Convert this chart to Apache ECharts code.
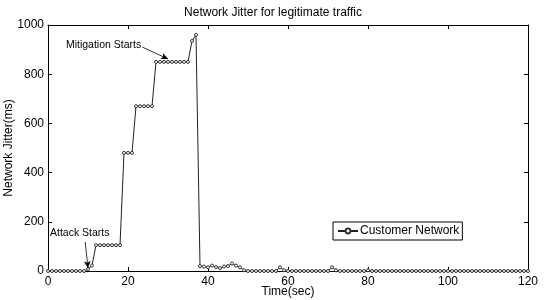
<!DOCTYPE html>
<html>
<head>
<meta charset="utf-8">
<script src="https://cdn.jsdelivr.net/npm/echarts@6/dist/echarts.min.js"></script>
<style>
  html, body { margin: 0; padding: 0; background: #fff; }
  #chart { width: 546px; height: 300px; }
</style>
</head>
<body>
<div id="chart"></div>
<script>
// time in seconds, one sample per second
const timeSec = [
  0, 1, 2, 3, 4, 5, 6, 7, 8, 9, 10, 11, 12, 13, 14, 15, 16, 17, 18, 19,
  20, 21, 22, 23, 24, 25, 26, 27, 28, 29, 30, 31, 32, 33, 34, 35, 36, 37, 38, 39,
  40, 41, 42, 43, 44, 45, 46, 47, 48, 49, 50, 51, 52, 53, 54, 55, 56, 57, 58, 59,
  60, 61, 62, 63, 64, 65, 66, 67, 68, 69, 70, 71, 72, 73, 74, 75, 76, 77, 78, 79,
  80, 81, 82, 83, 84, 85, 86, 87, 88, 89, 90, 91, 92, 93, 94, 95, 96, 97, 98, 99,
  100, 101, 102, 103, 104, 105, 106, 107, 108, 109, 110, 111, 112, 113, 114, 115, 116, 117, 118, 119,
  120
]
// jitter in ms
const jitterMs = [
  0, 0, 0, 0, 0, 0, 0, 0, 0, 0, 8, 22, 105, 105, 105, 105, 105, 105, 105, 480,
  480, 480, 670, 670, 670, 670, 670, 850, 850, 850, 850, 850, 850, 850, 850, 850, 935, 960, 20, 18,
  15, 22, 16, 12, 18, 20, 30, 22, 15, 3, 0, 0, 0, 0, 0, 0, 0, 0, 15, 3,
  0, 0, 0, 0, 0, 0, 0, 0, 0, 0, 0, 15, 3, 0, 0, 0, 0, 0, 0, 0,
  3, 0, 0, 0, 0, 0, 0, 0, 0, 0, 0, 0, 0, 0, 0, 0, 0, 0, 0, 0,
  0, 0, 0, 0, 0, 0, 0, 0, 0, 0, 0, 0, 0, 0, 0, 0, 0, 0, 0, 0,
  0
]

// annotations: text anchor and arrow [from, to] in data units
const attackLabel = { text: 'Attack Starts', at: [0.5, 155], from: [9.3, 118], to: [10, 12] }
const mitigationLabel = { text: 'Mitigation Starts', at: [23.3, 917], from: [23.6, 910], to: [30, 862] }

const seriesData = timeSec.map((t, i) => [t, jitterMs[i]])
const fontFamily = 'Liberation Sans, Arial, sans-serif'
const ink = '#000'

const chart = echarts.init(document.getElementById('chart'), null, { renderer: 'canvas' })

const axisCommon = {
  axisLine: { show: true, onZero: false, lineStyle: { color: ink, width: 1 } },
  axisTick: { show: true, inside: true, length: 4, lineStyle: { color: ink } },
  splitLine: { show: false }
}

chart.setOption({
  animation: false,
  backgroundColor: '#fff',
  title: {
    text: 'Network Jitter for legitimate traffic',
    left: 'center',
    top: 2,
    textStyle: { fontFamily, fontSize: 12, fontWeight: 'normal', color: ink }
  },
  grid: { left: 48, right: 18, top: 25, bottom: 29, containLabel: false, outerBoundsMode: 'none' },
  legend: {
    data: ['Customer Network'],
    left: 333,
    top: 222,
    orient: 'vertical',
    backgroundColor: '#fff',
    borderColor: ink,
    borderWidth: 1,
    padding: [3, 3, 3, 4],
    itemWidth: 20,
    itemHeight: 6,
    itemGap: 0,
    textStyle: { fontFamily, fontSize: 12, color: ink, padding: [0, 0, 0, -3] }
  },
  xAxis: [
    Object.assign({}, axisCommon, {
      type: 'value', min: 0, max: 120, interval: 20,
      name: 'Time(sec)', nameLocation: 'middle', nameGap: 15, nameMoveOverlap: false,
      nameTextStyle: { fontFamily, fontSize: 12, color: ink },
      axisLabel: { fontFamily, fontSize: 12, color: ink, margin: 5 }
    }),
    Object.assign({}, axisCommon, {
      type: 'value', min: 0, max: 120, interval: 20, position: 'top',
      axisLabel: { show: false }
    })
  ],
  yAxis: [
    Object.assign({}, axisCommon, {
      type: 'value', min: 0, max: 1000, interval: 200,
      name: 'Network Jitter(ms)', nameLocation: 'middle', nameGap: 33, nameMoveOverlap: false,
      nameTextStyle: { fontFamily, fontSize: 12, color: ink },
      axisLabel: { fontFamily, fontSize: 12, color: ink, margin: 4, formatter: v => String(v) }
    }),
    Object.assign({}, axisCommon, {
      type: 'value', min: 0, max: 1000, interval: 200, position: 'right',
      axisLabel: { show: false }
    })
  ],
  series: [
    {
      name: 'Customer Network',
      type: 'line',
      xAxisIndex: 0,
      yAxisIndex: 0,
      data: seriesData,
      symbol: 'circle',
      symbolSize: 3,
      showSymbol: true,
      showAllSymbol: true,
      lineStyle: { color: '#222', width: 1 },
      itemStyle: { color: '#fff', borderColor: '#333', borderWidth: 1 },
      z: 3,
      markPoint: {
        symbol: 'circle',
        symbolSize: 0,
        label: { show: true, position: 'right', distance: 0, fontFamily, fontSize: 10.5, color: ink },
        data: [
          { coord: attackLabel.at, label: { formatter: attackLabel.text } },
          { coord: mitigationLabel.at, label: { formatter: mitigationLabel.text, position: 'left' } }
        ]
      },
      markLine: {
        silent: true,
        symbol: ['none', 'arrow'],
        symbolSize: [5, 7],
        label: { show: false },
        lineStyle: { color: ink, width: 0.8, type: 'solid' },
        data: [
          [{ coord: attackLabel.from }, { coord: attackLabel.to }],
          [{ coord: mitigationLabel.from }, { coord: mitigationLabel.to }]
        ]
      }
    }
  ]
})
</script>
</body>
</html>
